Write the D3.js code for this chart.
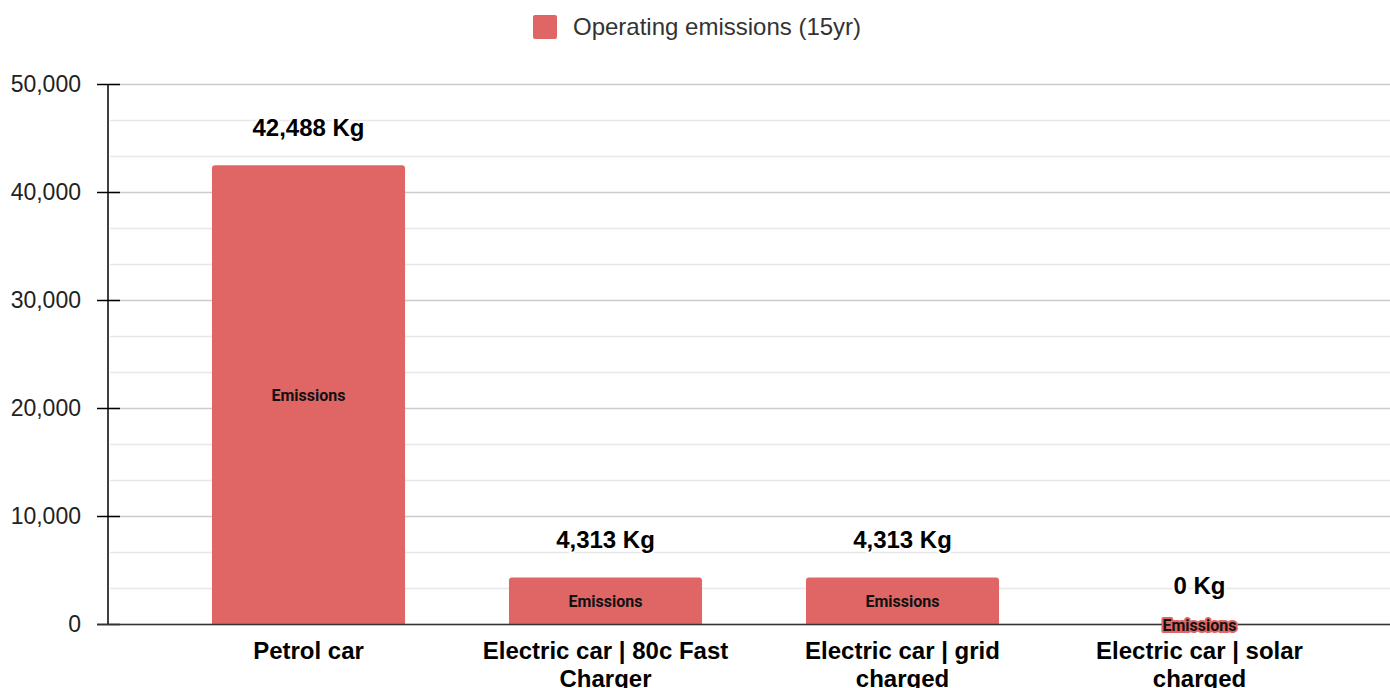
<!DOCTYPE html>
<html><head><meta charset="utf-8">
<script src="https://cdn.jsdelivr.net/npm/d3@7"></script>
<style>body{margin:0;background:#fff;font-family:Arial,"Liberation Sans",sans-serif}</style>
</head><body><svg id="c" width="1390" height="688"></svg>
<script>
const categories = [["Petrol car"],["Electric car | 80c Fast","Charger"],["Electric car | grid","charged"],["Electric car | solar","charged"]];
const values = [42488, 4313, 4313, 0];
const valueLabels = ["42,488 Kg","4,313 Kg","4,313 Kg","0 Kg"];
const seriesName = "Operating emissions (15yr)";
const barLabel = "Emissions";
const yTicks = [0,10000,20000,30000,40000,50000];
const color = "#e06666";
const FF = "Arial,'Liberation Sans',sans-serif";

const svg = d3.select("#c");
const y = d3.scaleLinear().domain([0,50000]).range([624,84]);
const x = d3.scaleBand().domain(d3.range(categories.length)).range([160,1348]).paddingInner(0.35).paddingOuter(0.175);

// grid
const minor = d3.range(0,50001,10000/3);
svg.append("g").selectAll("line").data(minor).join("line")
  .attr("x1",110).attr("x2",1390).attr("y1",d=>Math.round(y(d))+0.5).attr("y2",d=>Math.round(y(d))+0.5)
  .attr("stroke",(d,i)=>i%3===0?"#cccccc":"#e8e8e8").attr("stroke-width",1.5);

// axis
const ax = svg.append("g").attr("transform","translate(108,0)").call(d3.axisLeft(y).tickValues(yTicks).tickSize(11).tickFormat(d3.format(",")));
ax.select(".domain").remove();
ax.selectAll(".tick line").attr("x2",-11).attr("x1",12).attr("stroke","#000").attr("stroke-width",1.5);
ax.selectAll(".tick text").attr("x",-27).attr("font-size",23).attr("font-family",FF).attr("fill","#222");
svg.append("line").attr("x1",108).attr("x2",108).attr("y1",84).attr("y2",624).attr("stroke","#000").attr("stroke-width",1.5);

// bars
const bw = x.bandwidth();
function topRounded(x0,y0,w,h,r){r=Math.min(r,h,w/2);return `M${x0},${y0+h}V${y0+r}Q${x0},${y0} ${x0+r},${y0}H${x0+w-r}Q${x0+w},${y0} ${x0+w},${y0+r}V${y0+h}Z`;}
svg.append("g").selectAll("path").data(values).join("path")
  .attr("d",(d,i)=>topRounded(x(i),y(d),bw,y(0)-y(d),3)).attr("fill",color);

// baseline
svg.append("line").attr("x1",97).attr("x2",1390).attr("y1",624.5).attr("y2",624.5).attr("stroke","#333").attr("stroke-width",1.5);

// inside labels
svg.append("g").selectAll("text").data(values).join("text")
  .attr("x",(d,i)=>x(i)+bw/2).attr("y",d=>(y(d)+y(0))/2+1).attr("dy","0.35em")
  .attr("text-anchor","middle").attr("font-size",16).attr("font-weight","bold")
  .attr("font-family","Roboto,Arial,sans-serif").attr("fill","#111")
  .attr("stroke",color).attr("stroke-width",4).attr("stroke-linejoin","round").attr("paint-order","stroke")
  .text(barLabel);

// value labels
svg.append("g").selectAll("text").data(values).join("text")
  .attr("x",(d,i)=>x(i)+bw/2).attr("y",d=>y(d)-38).attr("dy","0.35em")
  .attr("text-anchor","middle").attr("font-size",24).attr("font-weight","bold").attr("font-family",FF).attr("fill","#000")
  .attr("stroke","#fff").attr("stroke-width",4).attr("stroke-linejoin","round").attr("paint-order","stroke")
  .text((d,i)=>valueLabels[i]);

// category labels
const cl = svg.append("g").selectAll("text").data(categories).join("text")
  .attr("x",(d,i)=>x(i)+bw/2).attr("y",659).attr("text-anchor","middle")
  .attr("font-size",24).attr("font-weight","bold").attr("font-family",FF).attr("fill","#000");
cl.each(function(d){const t=d3.select(this);d.forEach((l,j)=>t.append("tspan").attr("x",t.attr("x")).attr("dy",j?28:0).text(l));});

// legend
svg.append("rect").attr("x",533).attr("y",15).attr("width",24).attr("height",24).attr("rx",2).attr("fill",color);
svg.append("text").attr("x",573).attr("y",27).attr("dy","0.35em").attr("font-size",24).attr("font-family",FF).attr("fill","#333").text(seriesName);
</script></body></html>
